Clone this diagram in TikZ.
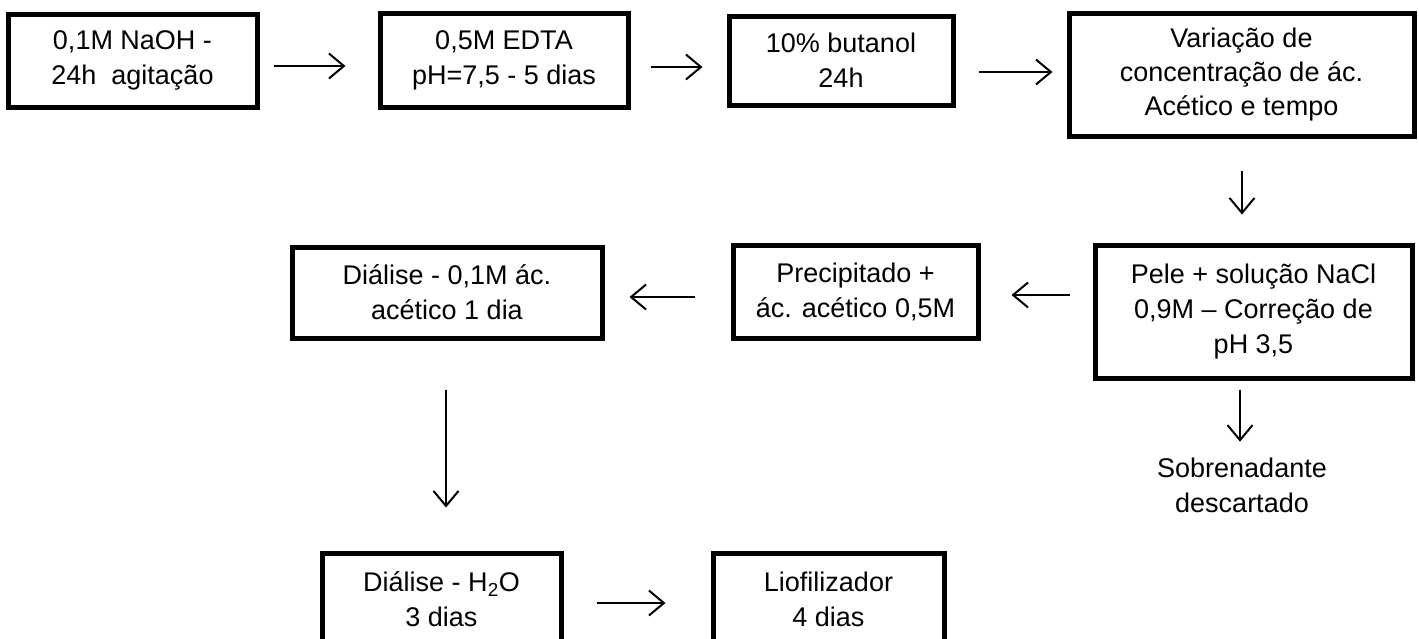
\documentclass[tikz,border=0pt]{standalone}
\usepackage{fontspec}
\setmainfont{Liberation Sans}
\usetikzlibrary{arrows.meta,calc}
\begin{document}
\begin{tikzpicture}[x=1pt,y=-1pt,
  box/.style={draw,line width=5pt,rectangle,align=center,inner sep=0pt,
    font=\fontsize{27}{35}\selectfont},
  arr/.style={line width=2pt,-{Straight Barb[length=15pt,width=25pt,line width=2pt]}},
  lbl/.style={align=center,inner sep=0pt,font=\fontsize{27}{35}\selectfont}]
\useasboundingbox (0,0) rectangle (1419,638);
\node[box,minimum width=249pt,minimum height=93pt] (b1) at (132.5,60.5) {0,1M NaOH -\\24h\ \ agitação};
\node[box,minimum width=248pt,minimum height=94pt] (b2) at (504,60) {0,5M EDTA\\pH=7,5 - 5 dias};
\node[box,minimum width=224pt,minimum height=89pt] (b3) at (841,60.5) {10\% butanol\\24h};
\node[box,minimum width=345pt,minimum height=123pt,font=\fontsize{27}{34}\selectfont] (b4) at (1241.5,74.5) {Variação de\\concentração de ác.\\Acético e tempo};
\node[box,minimum width=317pt,minimum height=133pt] (b5) at (1253.5,311.5) {Pele + solução NaCl\\0,9M -- Correção de\\pH 3,5};
\node[box,minimum width=245pt,minimum height=93pt] (b6) at (855.5,291.5) {Precipitado +\\ác. acético 0,5M};
\node[box,minimum width=310pt,minimum height=91pt] (b7) at (447,292.5) {Diálise - 0,1M ác.\\acético 1 dia};
\node[box,minimum width=239pt,minimum height=93pt] (b8) at (441.5,599.5) {Diálise - H\textsubscript{2}O\\3 dias};
\node[box,minimum width=231pt,minimum height=93pt] (b9) at (828.5,599.5) {Liofilizador\\4 dias};
\node[lbl] (sob) at (1242,485.6) {Sobrenadante\\descartado};
\draw[arr] ($(b1.east)+(14,5.5)$) -- ($(b2.west)+(-32,6)$);
\draw[arr] ($(b2.east)+(20,7)$) -- ($(b3.west)+(-24,6.5)$);
\draw[arr] ($(b3.east)+(23,11.5)$) -- ($(b4.west)+(-14,-2.5)$);
\draw[arr] ($(b4.south)+(0.5,32)$) -- ($(b5.north)+(-11.5,-28)$);
\draw[arr] ($(b5.south)+(-13.5,9)$) -- ($(sob.north)+(-2,-16.3)$);
\draw[arr] ($(b5.west)+(-23,-16.5)$) -- ($(b6.east)+(31,3.5)$);
\draw[arr] ($(b6.west)+(-36,5.5)$) -- ($(b7.east)+(25,4.5)$);
\draw[arr] ($(b7.south)+(-1,49)$) -- ($(b8.north)+(4.5,-43)$);
\draw[arr] ($(b8.east)+(33,3.5)$) -- ($(b9.west)+(-45,3.5)$);
\end{tikzpicture}
\end{document}
